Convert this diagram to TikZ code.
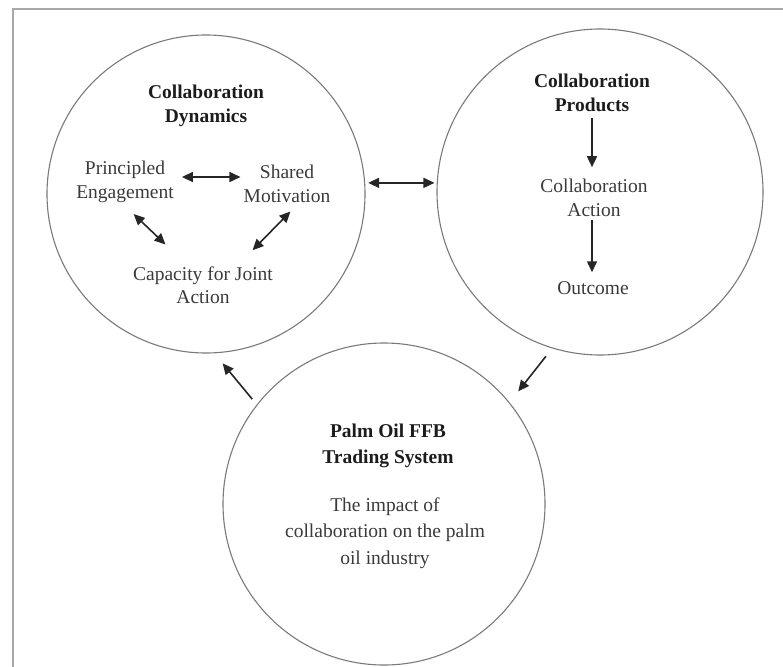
\documentclass[tikz,border=0pt]{standalone}
\usepackage{fontspec}
\setmainfont{Liberation Serif}
\usetikzlibrary{arrows.meta,positioning}
\definecolor{RingLine}{HTML}{7A7A7A}
\definecolor{FrameLine}{HTML}{A8A8A8}
\definecolor{TextMain}{HTML}{3A3A3A}
\definecolor{TextHead}{HTML}{1C1C1C}
\tikzset{>={Triangle[length=11pt,width=10pt]},ring/.style={circle,draw=RingLine,
 line width=1.1pt,minimum size=322pt,inner sep=0pt},txt/.style={align=center,text=TextMain,
 inner sep=3pt,font=\fontsize{19.5}{23.5}\selectfont},head/.style={txt,text=TextHead,
 font=\fontsize{19.5}{23.5}\selectfont\bfseries},link/.style={line width=1.6pt,draw=black!85}}

\begin{document}
\begin{tikzpicture}[x=1pt,y=-1pt]
\useasboundingbox (0,0) rectangle (783,666);
\draw[FrameLine,line width=1.4pt] (795,9)--(13,9)--(13,680);
% the three circles
\node[ring,minimum size=318pt] (dyn) at (206,194) {};
\node[ring,minimum size=326pt] (prd) at (600,192) {};
\node[ring] (sys) at (384,504) {};
% collaboration dynamics
\node[head] (dtitle) at (206,106) {Collaboration\\Dynamics};
\node[txt] (pe) at (125,182) {Principled\\Engagement};
\node[txt] (sm) at (287,184) {Shared\\Motivation};
\node[txt] (cja) at (203,285) {Capacity for Joint\\Action};
\draw[link,<->,shorten <=5pt] ([yshift=5pt]pe.east)--([yshift=7pt]sm.west);
\draw[link,<->,shorten <=12pt,shorten >=27pt] (pe.south)--([xshift=-18pt]cja.north);
\draw[link,<->,shorten <=8pt,shorten >=18pt] ([xshift=9pt]sm.south)--([xshift=37pt]cja.north);
% collaboration products
\node[head] (ptitle) at (592,93) {Collaboration\\Products};
\node[txt] (ca) at (594,198) {Collaboration\\Action};
\node[txt] (oc) at (593,288) {Outcome};
\draw[link,->,shorten <=3pt,shorten >=9pt] (ptitle.south)--(ptitle.south|-ca.north);
\draw[link,->,shorten >=6pt] (ca.south-|ptitle.south)--(ptitle.south|-oc.north);
% palm oil system
\node[head,font=\fontsize{19.5}{26}\selectfont\bfseries] (btitle) at (388,446) {Palm Oil FFB\\Trading System};
\node[txt,font=\fontsize{19.5}{26.5}\selectfont] (bdesc) at (385,533) {The impact of\\collaboration on the palm\\oil industry};
% links between circles
\draw[link,<->,shorten <=3pt,shorten >=2pt] (dyn.4.3)--(dyn.4.3-|prd.west);
\draw[link,->,shorten <=10pt,shorten >=14pt] (prd.-107)--(sys.39);
\draw[link,->,shorten <=7pt,shorten >=13pt] (sys.142)--(dyn.-87);
\end{tikzpicture}
\end{document}
